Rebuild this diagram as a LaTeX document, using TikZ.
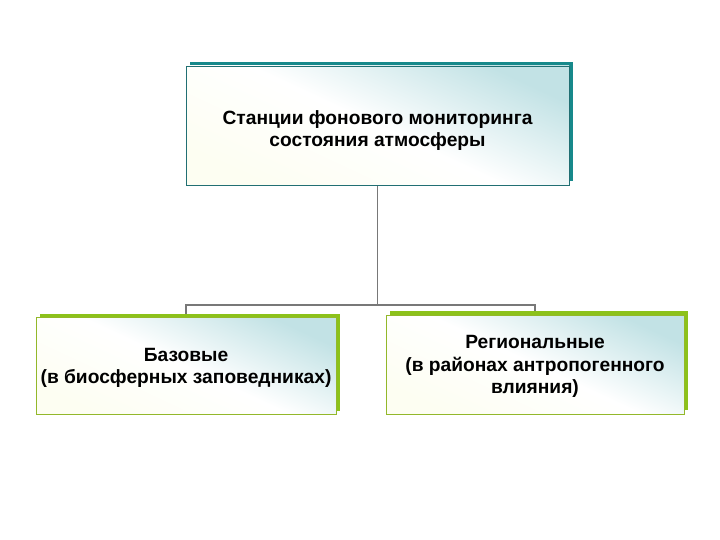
\documentclass[tikz,border=0pt]{standalone}
\usepackage{fontspec}
\setmainfont{Liberation Sans}
\usetikzlibrary{shadows}
\usetikzlibrary{backgrounds}

\definecolor{bandteal}{HTML}{17898B}
\definecolor{lineteal}{HTML}{216F73}
\definecolor{bandgreen}{HTML}{8CC21A}
\definecolor{linegreen}{HTML}{93B82A}
\definecolor{paleblue}{HTML}{C2E2E5}
\definecolor{paleyellow}{HTML}{FDFEF2}
\definecolor{conngray}{HTML}{787878}

\begin{document}
\begin{tikzpicture} [
        x=1pt, y=-1pt,
        topbox/.style={draw=lineteal, line width=0.9pt, rectangle,
            top color=paleblue, bottom color=paleyellow, middle color=white, shading angle=-25,
            general shadow={fill=bandteal, shadow xshift=4pt, shadow yshift=3.5pt},
            minimum width=383pt, minimum height=119pt, inner sep=0pt},
        subbox/.style={draw=linegreen, line width=0.9pt, rectangle,
            top color=paleblue, bottom color=paleyellow, middle color=white, shading angle=-25,
            general shadow={fill=bandgreen, shadow xshift=4pt, shadow yshift=4pt},
            minimum width=300pt, minimum height=97pt, inner sep=0pt},
        conn/.style={draw=conngray, line width=1.7pt},
        align=center,
        font=\fontsize{19.2}{22.5}\selectfont\bfseries ]
    \useasboundingbox (0,0) rectangle (720,540);
    \node[topbox, text height=43pt, text depth=0pt] (stations) at (377.5,125.5) {Станции фонового мониторинга\\состояния атмосферы};
    \node[subbox, text depth=0pt] (base) at (186,366) {Базовые\\(в биосферных заповедниках)};
    \node[subbox, text depth=0pt, minimum width=298pt, minimum height=99pt] (regional) at (535,364.5) {Региональные\\(в районах антропогенного\\влияния)};
    \coordinate (bus) at (0,305);
    \begin{scope}[on background layer]
    \draw[conn] (stations.south) -- (stations.south |- bus) -| (base.north);
    \draw[conn] (stations.south |- bus) -| (regional.north);
    \end{scope}
    \end{tikzpicture}
\end{document}
